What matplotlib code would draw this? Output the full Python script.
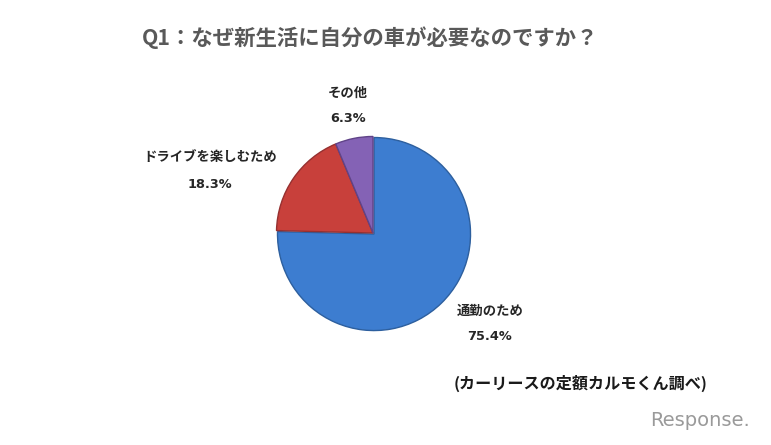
import matplotlib.pyplot as plt

plt.rcParams['font.family'] = ['Noto Sans CJK JP', 'DejaVu Sans']

# データ
labels = ['通勤のため', 'ドライブを楽しむため', 'その他']
values = [75.4, 18.3, 6.3]
colors = ['#3d7dd0', '#c8403b', '#8462b5']
edges = ['#2d5f9e', '#963030', '#604388']

W, H = 771, 445
fig = plt.figure(figsize=(W / 100, H / 100), dpi=100)
fig.patch.set_facecolor('white')

# 円グラフ（中心 373,233 / 半径 97 px）
cx, cy, r = 373, 233, 97
ax = fig.add_axes([(cx - r) / W, (H - cy - r) / H, 2 * r / W, 2 * r / H])
wedges, _ = ax.pie(values, colors=colors, startangle=90, counterclock=False,
                   explode=[0.015, 0, 0], radius=1.0,
                   wedgeprops=dict(linewidth=1.0))
for w, ec in zip(wedges, edges):
    w.set_edgecolor(ec)
ax.set_xlim(-1.005, 1.005)
ax.set_ylim(-1.005, 1.005)
ax.set_aspect('auto')
ax.axis('off')

def px(x, y):
    return x / W, 1 - y / H

# ラベル
pos = [(490, 311, 337), (210, 157, 184), (348, 93, 118)]
for (x, y1, y2), lab, v in zip(pos, labels, values):
    fig.text(*px(x, y1), lab, ha='center', va='center', fontsize=9.6,
             fontweight='bold', color='#262626')
    fig.text(*px(x, y2), f'{v:.1f}%', ha='center', va='center', fontsize=9.3,
             fontweight='bold', color='#262626', family='DejaVu Sans')

# タイトル
fig.text(*px(370, 38), 'Q1：なぜ新生活に自分の車が必要なのですか？', ha='center', va='center',
         fontsize=15.4, fontweight='bold', color='#595959')

# 出典
fig.text(*px(581, 383), '(カーリースの定額カルモくん調べ)', ha='center', va='center',
         fontsize=11.6, fontweight='bold', color='#1a1a1a')

# ロゴ
fig.text(*px(700, 420), 'Response.', ha='center', va='center', fontsize=14,
         color='#9a9a9a', family='DejaVu Sans')

fig.savefig('out.png', dpi=100)
